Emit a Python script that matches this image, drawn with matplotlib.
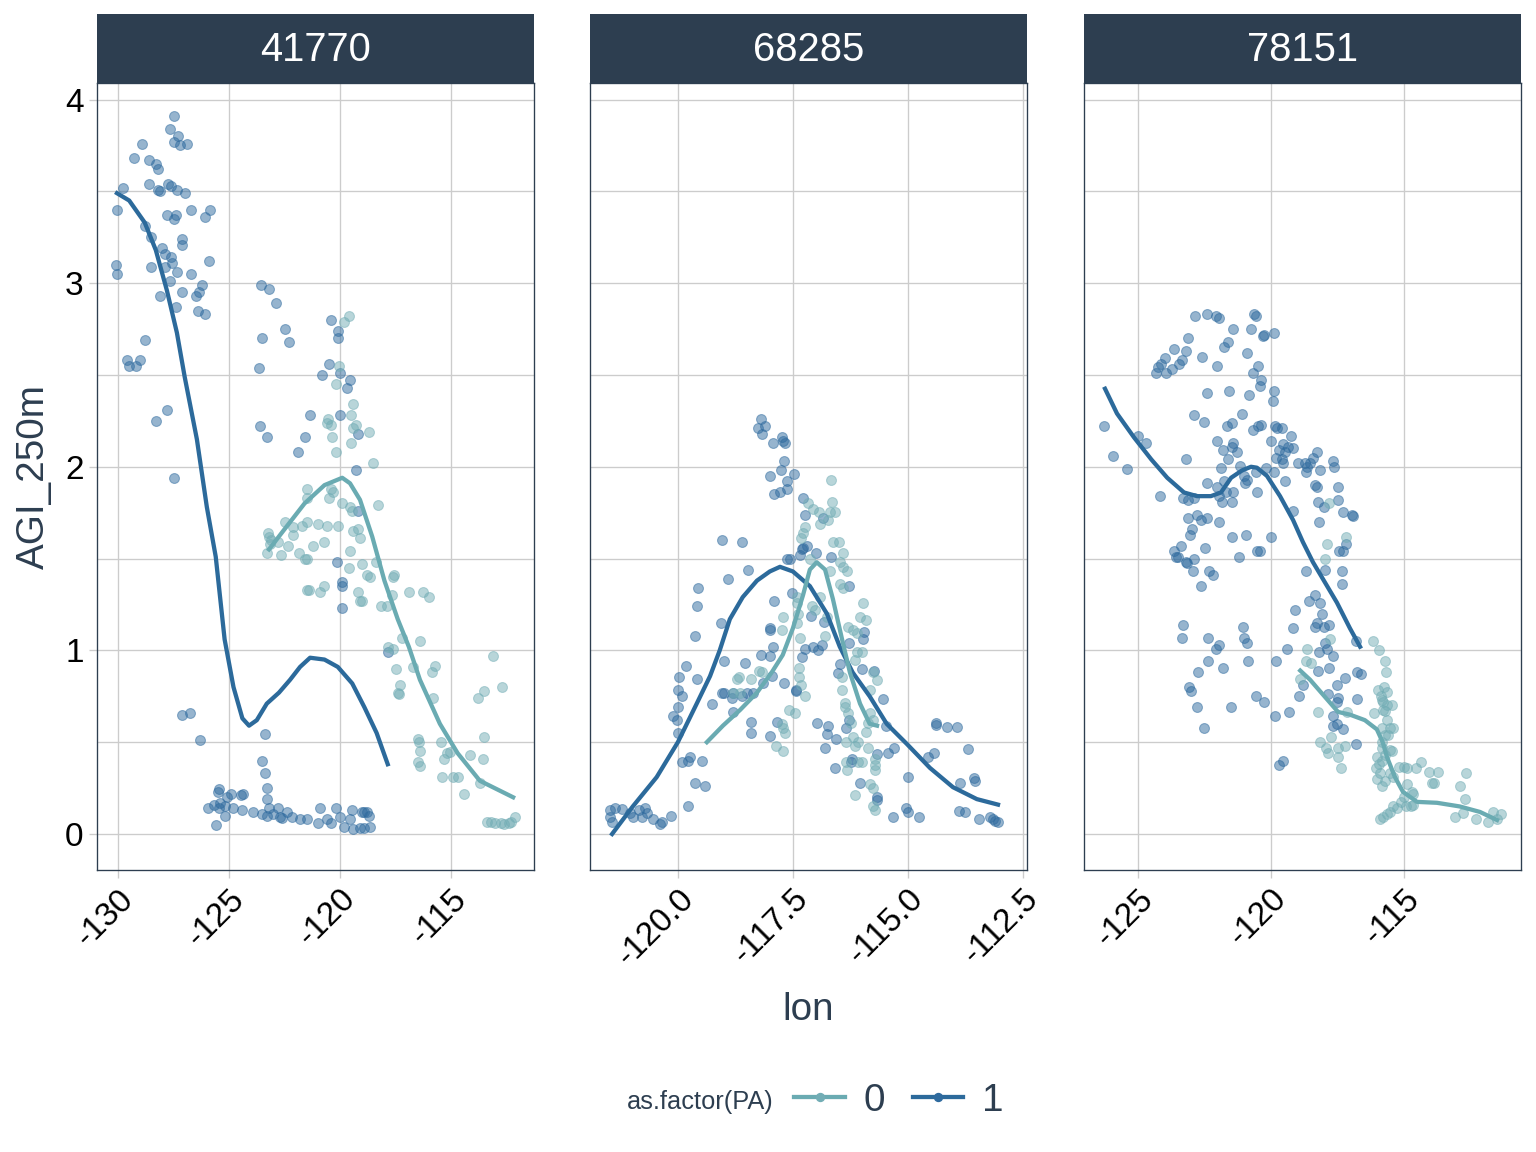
import numpy as np
import matplotlib
matplotlib.use("Agg")
import matplotlib.pyplot as plt
from matplotlib.lines import Line2D

plt.rcParams['font.family'] = ['Liberation Sans', 'DejaVu Sans']

# ---- data ----
panels = ['41770', '68285', '78151']

# panel 41770
p1_lon1 = [-127.5, -127.66, -127.3, -127.5, -127.2, -126.9, -128.9, -129.3, -128.6, -128.3, -128.2, -129.8,
           -128.6, -128.2, -128.1, -127.75, -127.6, -127.35, -127.0, -130.05, -126.7, -126.1, -125.85, -127.8,
           -127.4, -127.5, -128.8, -128.5, -128.0, -127.1, -127.1, -127.9, -127.6, -127.55, -127.9, -128.5,
           -130.1, -130.05, -127.35, -126.7, -125.9, -127.65, -126.2, -126.35, -126.5, -127.1, -128.1, -127.4,
           -126.4, -126.1, -128.8, -129.6, -129.5, -129.2, -129.0, -127.8, -128.3, -127.5,
           -123.55, -123.2, -122.9, -122.5, -122.3, -123.5, -123.65, -120.4, -120.1, -120.1, -120.5, -120.8,
           -120.0, -119.55, -119.7, -121.35, -120.0, -119.2, -123.6, -123.3, -121.6, -121.9, -119.3, -119.2,
           -120.15, -119.9, -119.9, -119.9, -117.85, -127.1, -126.75, -126.3, -123.4, -123.5, -123.4, -123.3,
           -123.3,
           -125.45, -125.5, -124.9, -125.1, -124.45, -124.35, -125.95, -125.7, -125.4, -125.45, -125.2, -125.2,
           -125.6, -124.8, -124.4, -123.9, -123.5, -123.2, -123.3, -123.0, -122.8, -122.7, -122.6, -122.4,
           -122.15, -121.8, -121.5, -121.0, -120.9, -120.6, -120.4, -120.2, -120.0, -119.8, -119.55, -119.45,
           -119.0, -118.9, -118.8, -119.4, -119.1, -118.9, -118.65, -118.7]
p1_agi1 = [3.91, 3.84, 3.80, 3.77, 3.75, 3.76, 3.76, 3.68, 3.67, 3.65, 3.62, 3.52,
           3.54, 3.51, 3.50, 3.54, 3.53, 3.51, 3.49, 3.40, 3.40, 3.36, 3.40, 3.37,
           3.37, 3.35, 3.31, 3.25, 3.19, 3.24, 3.21, 3.16, 3.14, 3.11, 3.09, 3.09,
           3.10, 3.05, 3.06, 3.05, 3.12, 3.01, 2.99, 2.95, 2.93, 2.95, 2.93, 2.87,
           2.85, 2.83, 2.69, 2.58, 2.55, 2.55, 2.58, 2.31, 2.25, 1.94,
           2.99, 2.97, 2.89, 2.75, 2.68, 2.70, 2.54, 2.80, 2.74, 2.70, 2.56, 2.50,
           2.51, 2.47, 2.43, 2.28, 2.28, 2.18, 2.22, 2.16, 2.16, 2.08, 1.98, 1.76,
           1.48, 1.37, 1.35, 1.23, 0.99, 0.65, 0.66, 0.51, 0.545, 0.40, 0.33, 0.25,
           0.19,
           0.245, 0.23, 0.22, 0.20, 0.21, 0.22, 0.14, 0.16, 0.17, 0.14, 0.15, 0.10,
           0.05, 0.14, 0.13, 0.12, 0.11, 0.14, 0.10, 0.11, 0.14, 0.09, 0.085, 0.12,
           0.09, 0.08, 0.08, 0.06, 0.14, 0.08, 0.06, 0.14, 0.09, 0.04, 0.08, 0.13,
           0.12, 0.12, 0.12, 0.03, 0.035, 0.035, 0.04, 0.10]
p1_lon0 = [-119.8, -119.6, -120.05, -120.2, -119.4, -119.5, -120.55, -120.4, -120.6, -119.3, -119.4, -118.7,
           -120.35, -119.5, -120.2, -118.5, -121.5, -121.5, -120.4, -120.5, -120.3, -119.9, -119.55, -119.45,
           -118.3, -122.5, -122.1, -121.7, -121.5, -121.0, -120.6, -120.1, -122.1, -123.2, -123.25, -123.1,
           -123.15, -122.8, -122.35, -121.2, -120.7, -123.3, -122.65, -121.85, -121.6, -121.5, -119.55, -119.4,
           -119.2, -119.1, -119.6, -119.0, -118.4, -118.8, -118.65, -117.55, -117.6, -119.2, -119.1, -119.0,
           -118.15, -117.9, -121.5, -121.4, -120.9, -120.7, -117.85, -117.6, -117.5, -116.9, -116.25, -116.0,
           -117.65, -117.2, -116.4, -116.7, -115.85, -115.7, -117.3, -117.4, -117.35, -115.8, -113.1, -113.5,
           -112.7, -113.8, -116.5, -116.45, -116.4, -116.5, -116.4, -115.45, -115.3, -115.2, -115.05, -115.4,
           -114.9, -114.7, -114.4, -114.15, -113.55, -113.5, -113.7, -113.4, -113.2, -113.0, -112.75, -112.6,
           -112.4, -112.3, -112.1]
p1_agi0 = [2.79, 2.82, 2.55, 2.45, 2.34, 2.28, 2.26, 2.23, 2.24, 2.23, 2.21, 2.19,
           2.16, 2.13, 2.08, 2.02, 1.88, 1.83, 1.88, 1.83, 1.86, 1.80, 1.78, 1.76,
           1.79, 1.70, 1.67, 1.68, 1.70, 1.69, 1.68, 1.68, 1.63, 1.62, 1.64, 1.60,
           1.58, 1.59, 1.57, 1.57, 1.59, 1.53, 1.52, 1.53, 1.50, 1.50, 1.54, 1.65,
           1.66, 1.61, 1.45, 1.47, 1.48, 1.41, 1.40, 1.41, 1.40, 1.32, 1.27, 1.27,
           1.24, 1.24, 1.33, 1.33, 1.32, 1.35, 1.02, 1.01, 0.90, 1.32, 1.32, 1.29,
           1.30, 1.07, 1.05, 0.91, 0.88, 0.915, 0.81, 0.77, 0.76, 0.74, 0.97, 0.78,
           0.80, 0.74, 0.52, 0.50, 0.45, 0.39, 0.37, 0.50, 0.41, 0.44, 0.445, 0.31,
           0.31, 0.31, 0.22, 0.43, 0.41, 0.53, 0.28, 0.065, 0.065, 0.06, 0.06, 0.055,
           0.06, 0.065, 0.09]
s1_lon1 = [-130.05, -129.5, -128.8, -128.3, -127.8, -127.35, -127.0, -126.45, -126.0, -125.6, -125.2, -124.8,
           -124.4, -124.1, -123.75, -123.3, -122.75, -122.25, -121.8, -121.35, -120.7, -120.1, -119.45, -118.9,
           -118.35, -117.85]
s1_agi1 = [3.49, 3.45, 3.33, 3.18, 2.96, 2.73, 2.49, 2.15, 1.78, 1.51, 1.06, 0.80,
           0.63, 0.59, 0.62, 0.71, 0.77, 0.84, 0.91, 0.96, 0.95, 0.91, 0.82, 0.69,
           0.55, 0.38]
s1_lon0 = [-123.2, -122.5, -121.6, -120.7, -119.9, -119.55, -119.1, -118.55, -118.0, -117.4, -116.9, -116.4,
           -115.5, -114.7, -113.7, -112.2]
s1_agi0 = [1.55, 1.66, 1.80, 1.90, 1.94, 1.91, 1.82, 1.62, 1.38, 1.17, 1.02, 0.84,
           0.60, 0.44, 0.29, 0.20]

# panel 68285
p2_lon1 = [-118.2, -118.26, -118.1, -118.17, -117.93, -117.74, -117.72, -117.67, -117.7, -117.76, -117.48, -118.0,
           -117.63, -117.63, -117.78, -117.9, -117.28, -117.24, -116.85, -119.04, -118.6, -117.63, -117.57, -117.28,
           -117.2, -117.3, -117.35, -117.0, -116.67, -118.48, -118.9, -119.57, -119.59, -117.9, -117.52, -119.07,
           -118.0, -119.63, -117.93, -118.2, -118.0, -119.0, -118.54, -119.83, -119.98, -119.59, -120.0, -119.9,
           -119.04, -119.0, -118.8, -118.83, -118.6, -118.5, -118.37, -118.15, -117.96, -117.7, -117.43, -119.26,
           -120.0, -120.1, -120.02, -120.0, -118.8, -118.4, -118.4, -117.85, -118.0, -119.9, -119.78, -119.74,
           -119.48, -119.63, -119.41, -119.78,
           -121.48, -121.48, -121.43, -121.37, -121.22, -121.04, -120.98, -120.85, -120.78, -120.72, -120.67, -120.54,
           -120.39, -120.35, -120.15,
           -117.11, -116.28, -116.83, -115.96, -115.98, -116.28, -117.24, -117.07, -116.96, -116.87, -117.3, -118.0,
           -117.43, -116.48, -116.52, -116.0, -115.74, -115.54, -115.48, -116.28, -116.35, -116.98, -116.74, -116.76,
           -116.57, -116.8, -116.22, -116.24, -115.67, -115.43, -115.3, -116.59, -116.04, -115.67, -115.67, -115.33,
           -115.0, -115.04, -115.0,
           -114.39, -114.39, -114.15, -113.93, -113.7, -114.43, -114.57, -113.87, -113.57, -113.54, -114.76, -113.89,
           -113.76, -113.46, -113.22, -113.15, -113.04, -113.1]
p2_agi1 = [2.26, 2.21, 2.22, 2.18, 2.13, 2.16, 2.14, 2.13, 2.03, 1.98, 1.96, 1.95,
           1.92, 1.88, 1.86, 1.85, 1.83, 1.74, 1.72, 1.60, 1.59, 1.50, 1.50, 1.56,
           1.57, 1.55, 1.52, 1.53, 1.51, 1.44, 1.39, 1.34, 1.24, 1.27, 1.31, 1.15,
           1.12, 1.08, 1.02, 0.975, 0.97, 0.94, 0.93, 0.915, 0.855, 0.845, 0.785, 0.75,
           0.77, 0.77, 0.77, 0.74, 0.75, 0.77, 0.77, 0.82, 0.86, 0.82, 0.78, 0.71,
           0.69, 0.64, 0.62, 0.55, 0.665, 0.61, 0.55, 0.61, 0.535, 0.39, 0.40, 0.42,
           0.40, 0.28, 0.26, 0.15,
           0.13, 0.09, 0.065, 0.14, 0.135, 0.115, 0.09, 0.13, 0.09, 0.14, 0.115, 0.08,
           0.055, 0.065, 0.10,
           1.19, 1.35, 1.155, 1.10, 1.06, 1.04, 1.01, 1.02, 1.00, 1.03, 0.965, 1.11,
           0.785, 0.925, 0.875, 0.90, 0.89, 0.735, 0.59, 0.62, 0.58, 0.605, 0.59, 0.545,
           0.52, 0.47, 0.41, 0.39, 0.435, 0.44, 0.47, 0.36, 0.28, 0.20, 0.185, 0.09,
           0.31, 0.14, 0.12,
           0.605, 0.595, 0.585, 0.585, 0.465, 0.44, 0.42, 0.28, 0.305, 0.29, 0.095, 0.125,
           0.12, 0.08, 0.09, 0.08, 0.065, 0.07]
p2_lon0 = [-118.72, -118.67, -118.41, -118.24, -118.17, -118.8, -118.65, -117.72, -117.74, -117.59, -117.46, -117.74,
           -117.72, -117.67, -117.87, -117.72, -117.24, -117.28, -117.33, -117.41, -117.39, -117.41, -117.35, -117.37,
           -117.37, -117.33, -117.24,
           -116.67, -116.65, -117.17, -117.07, -116.93, -116.7, -116.59, -116.74, -116.91, -116.63, -116.5, -116.41,
           -116.48, -116.41, -116.33, -116.7, -117.13, -116.48, -116.41, -116.91, -117.41, -117.09, -117.02, -116.76,
           -116.8, -116.3, -116.2, -116.1, -115.98, -116.04, -115.9, -116.0, -116.1, -116.15, -116.43, -116.43,
           -116.37, -116.37, -115.76, -115.67, -115.83, -115.83, -115.76, -115.87, -116.3, -116.24, -116.2, -116.08,
           -115.9, -116.35, -116.15, -115.72, -115.72, -115.72, -115.87, -116.35, -116.33, -116.08, -116.0, -115.83,
           -115.76, -116.15, -115.72, -115.76]
p2_agi0 = [0.845, 0.855, 0.845, 0.89, 0.88, 0.77, 0.77, 1.18, 1.11, 0.675, 0.66, 0.60,
           0.58, 0.55, 0.48, 0.45, 1.67, 1.64, 1.61, 1.26, 1.20, 1.15, 1.07, 0.905,
           0.855, 0.81, 0.75,
           1.93, 1.81, 1.80, 1.77, 1.755, 1.755, 1.755, 1.71, 1.69, 1.59, 1.59, 1.53,
           1.48, 1.455, 1.43, 1.43, 1.50, 1.36, 1.34, 1.29, 1.29, 1.24, 1.22, 1.18,
           1.08, 1.13, 1.11, 1.095, 1.26, 1.18, 1.165, 0.99, 0.99, 0.95, 0.855, 0.785,
           0.715, 0.69, 0.88, 0.84, 0.785, 0.66, 0.62, 0.605, 0.66, 0.605, 0.53, 0.50,
           0.555, 0.50, 0.48, 0.41, 0.375, 0.35, 0.47, 0.39, 0.35, 0.39, 0.39, 0.27,
           0.25, 0.21, 0.13, 0.15]
s2_lon1 = [-121.43, -120.98, -120.46, -120.0, -119.59, -119.3, -119.09, -118.87, -118.59, -118.28, -118.0, -117.78,
           -117.5, -117.13, -116.76, -116.48, -116.2, -115.83, -115.46, -115.02, -114.52, -114.02, -113.5, -113.04]
s2_agi1 = [0.0, 0.15, 0.31, 0.50, 0.71, 0.86, 1.00, 1.17, 1.29, 1.38, 1.43, 1.455,
           1.43, 1.35, 1.20, 1.02, 0.88, 0.75, 0.60, 0.49, 0.36, 0.255, 0.19, 0.16]
s2_lon0 = [-119.37, -119.02, -118.65, -118.28, -117.96, -117.72, -117.5, -117.28, -117.13, -116.98, -116.8, -116.63,
           -116.43, -116.26, -116.04, -115.83, -115.67]
s2_agi0 = [0.50, 0.59, 0.675, 0.77, 0.88, 0.975, 1.12, 1.30, 1.44, 1.48, 1.44, 1.28,
           1.06, 0.88, 0.71, 0.60, 0.59]

# panel 78151
p3_lon1 = [-122.86, -122.41, -122.07, -121.95, -121.43, -120.64, -120.56, -120.75, -120.3, -123.12, -121.6, -121.77,
           -123.2, -123.65, -123.98, -122.6, -120.9, -123.35, -123.46, -123.72, -124.25, -124.14, -124.32, -123.95,
           -122.03, -120.49, -120.68, -120.38, -120.41, -122.41, -121.58, -120.83, -122.9, -122.52, -126.28, -121.09,
           -121.47, -121.65, -120.68, -120.49, -120.38, -125.0, -124.7, -125.94, -125.41, -123.2, -122.03, -121.43,
           -121.47, -121.28, -121.8, -121.62, -121.88, -121.17, -120.56, -121.0, -120.9, -120.98, -120.53, -122.41,
           -124.17, -123.31, -123.12, -122.9, -122.03, -121.77, -121.7, -121.95, -121.84, -121.43, -121.47, -123.12,
           -122.78, -122.63, -122.41, -121.95, -122.97, -123.05, -121.47, -120.94, -123.38, -122.48, -123.65, -123.57,
           -123.5, -123.2, -123.16, -122.9, -122.93, -122.33, -122.18, -122.63, -121.2, -120.53, -120.41, -123.31,
           -123.35, -122.37, -122.07, -121.95, -121.05, -121.0, -120.9, -122.37, -121.8, -120.86, -122.74, -123.08,
           -123.0, -122.78, -121.5, -120.56, -120.26, -122.52,
           -120.26, -119.89, -119.89, -119.92, -119.85, -119.77, -119.59, -119.25, -120.0, -119.55, -119.36, -119.17,
           -119.7, -119.47, -119.81, -119.59, -119.55, -118.98, -118.72, -118.65, -118.53, -118.42, -118.27, -118.68,
           -118.16, -117.67, -117.63, -120.19, -119.89, -119.47, -118.35, -118.27, -117.48, -118.23, -118.0, -117.48,
           -119.17, -117.29, -116.95, -116.92, -118.2, -120.0, -117.18, -117.44, -117.29, -118.68, -117.97, -117.33,
           -117.33, -118.35, -118.57, -118.16, -118.08, -119.1, -119.17, -118.27, -118.35, -118.0, -117.82,
           -116.8, -117.97, -117.9, -118.2, -117.67, -119.4, -119.81, -118.23, -117.82, -117.22, -116.77, -116.6,
           -117.52, -118.8, -118.95, -117.86, -117.48, -117.52, -116.77, -119.32, -119.85, -117.67, -117.52, -117.29,
           -117.67, -116.8, -119.7, -119.55]
p3_agi1 = [2.82, 2.83, 2.82, 2.81, 2.75, 2.83, 2.82, 2.75, 2.71, 2.70, 2.68, 2.65,
           2.63, 2.64, 2.59, 2.60, 2.62, 2.58, 2.56, 2.53, 2.545, 2.56, 2.51, 2.51,
           2.55, 2.55, 2.51, 2.47, 2.44, 2.40, 2.41, 2.39, 2.28, 2.245, 2.22, 2.29,
           2.24, 2.22, 2.20, 2.22, 2.23, 2.17, 2.13, 2.06, 1.99, 2.04, 2.14, 2.13,
           2.11, 2.08, 2.09, 2.04, 1.995, 2.005, 1.97, 1.95, 1.93, 1.91, 1.86, 1.91,
           1.84, 1.83, 1.82, 1.83, 1.89, 1.92, 1.86, 1.84, 1.81, 1.86, 1.81, 1.72,
           1.74, 1.71, 1.72, 1.70, 1.66, 1.63, 1.62, 1.63, 1.57, 1.56, 1.54, 1.51,
           1.51, 1.48, 1.475, 1.50, 1.43, 1.43, 1.41, 1.35, 1.51, 1.54, 1.54, 1.14,
           1.07, 1.07, 1.01, 1.03, 1.13, 1.07, 1.04, 0.94, 0.905, 0.94, 0.88, 0.80,
           0.78, 0.69, 0.69, 0.75, 0.72, 0.58,
           2.72, 2.73, 2.41, 2.36, 2.22, 2.21, 2.21, 2.17, 2.14, 2.125, 2.11, 2.10,
           2.09, 2.08, 2.05, 2.04, 2.02, 2.02, 2.02, 2.00, 2.02, 2.05, 2.08, 1.97,
           1.98, 2.03, 2.00, 1.995, 1.97, 1.92, 1.90, 1.89, 1.89, 1.81, 1.78, 1.82,
           1.76, 1.755, 1.74, 1.73, 1.70, 1.62, 1.58, 1.54, 1.54, 1.43, 1.44, 1.43,
           1.36, 1.30, 1.27, 1.26, 1.20, 1.22, 1.12, 1.15, 1.13, 1.13, 1.14,
           1.05, 1.04, 1.01, 0.99, 0.97, 1.01, 0.94, 0.89, 0.905, 0.85, 0.88, 0.87,
           0.81, 0.81, 0.75, 0.76, 0.74, 0.72, 0.735, 0.665, 0.64, 0.64, 0.60, 0.57,
           0.59, 0.49, 0.375, 0.40]
p3_lon0 = [-117.82, -117.9, -117.18, -117.97, -118.65, -118.68, -118.5, -118.9, -118.23, -117.14, -117.78, -116.17,
           -115.94, -115.71, -115.68, -117.74, -118.16, -117.93, -117.86, -117.48, -117.22, -117.48, -117.37, -116.13,
           -115.98, -115.83, -115.8,
           -115.75, -115.64, -115.86, -115.79, -115.64, -115.45, -115.71, -115.64, -115.82, -115.53, -115.41, -115.71,
           -115.82, -115.6, -115.82, -115.53, -115.45, -115.71, -115.82, -116.0, -115.95, -116.05, -115.9, -116.0,
           -115.0, -114.9, -114.55, -114.36, -114.06, -113.72, -113.95, -113.87, -112.67, -112.9, -112.7, -112.78,
           -113.08, -112.3, -111.84, -111.65, -111.35, -111.5, -114.9, -114.7, -114.66, -115.0, -115.1, -114.92,
           -114.73, -114.66, -115.41, -115.53, -115.64, -115.79, -115.26, -115.9, -115.53, -115.41, -115.71, -115.82,
           -115.2]
p3_agi0 = [1.80, 1.58, 1.62, 1.50, 1.01, 0.94, 0.93, 0.845, 0.665, 0.665, 1.06, 1.05,
           1.00, 0.94, 0.88, 0.53, 0.50, 0.47, 0.44, 0.47, 0.48, 0.42, 0.36, 0.66,
           0.785, 0.73, 0.675,
           0.80, 0.775, 0.75, 0.72, 0.70, 0.70, 0.67, 0.62, 0.58, 0.58, 0.58, 0.54,
           0.50, 0.54, 0.47, 0.46, 0.45, 0.43, 0.40, 0.42, 0.38, 0.36, 0.33, 0.30,
           0.365, 0.36, 0.36, 0.39, 0.34, 0.34, 0.28, 0.28, 0.33, 0.26, 0.19, 0.115,
           0.09, 0.08, 0.065, 0.12, 0.11, 0.08, 0.27, 0.23, 0.22, 0.20, 0.175, 0.15,
           0.15, 0.16, 0.15, 0.12, 0.11, 0.09, 0.14, 0.08, 0.33, 0.31, 0.29, 0.26,
           0.365]
s3_lon1 = [-126.24, -125.79, -125.15, -124.5, -123.9, -123.27, -122.78, -122.26, -121.88, -121.5, -121.09, -120.75,
           -120.53, -120.15, -119.66, -119.17, -118.8, -118.42, -117.97, -117.52, -117.03, -116.65]
s3_agi1 = [2.425, 2.29, 2.16, 2.04, 1.94, 1.86, 1.84, 1.84, 1.86, 1.94, 1.98, 2.0,
           1.995, 1.95, 1.84, 1.71, 1.59, 1.48, 1.37, 1.26, 1.12, 1.02]
s3_lon0 = [-118.9, -118.53, -118.05, -117.48, -117.03, -116.47, -116.02, -115.8, -115.64, -115.34, -115.04, -114.51,
           -113.76, -112.9, -112.14, -111.5]
s3_agi0 = [0.89, 0.84, 0.76, 0.665, 0.65, 0.62, 0.57, 0.50, 0.42, 0.31, 0.23, 0.175,
           0.17, 0.15, 0.12, 0.076]

x_ticks = [[-130, -125, -120, -115], [-120.0, -117.5, -115.0, -112.5], [-125, -120, -115]]
x_ticklabels = [['-130', '-125', '-120', '-115'], ['-120.0', '-117.5', '-115.0', '-112.5'], ['-125', '-120', '-115']]
x_lims = [(-130.95, -111.26), (-121.91, -112.41), (-127.03, -110.6)]

# ---- styling ----
col0 = '#72adb5'
col1 = '#2e6a9e'
line0 = '#6aabb2'
line1 = '#2c6a9b'
navy = '#2d3e50'
grid_c = '#cccccc'

fig = plt.figure(figsize=(16, 12), dpi=96)
W, H = 1536, 1152
lefts = [97, 590, 1084]
pw = 437
top_px, bot_px, strip_top = 83, 870, 14

pts = [(p1_lon0, p1_agi0, p1_lon1, p1_agi1, s1_lon0, s1_agi0, s1_lon1, s1_agi1),
       (p2_lon0, p2_agi0, p2_lon1, p2_agi1, s2_lon0, s2_agi0, s2_lon1, s2_agi1),
       (p3_lon0, p3_agi0, p3_lon1, p3_agi1, s3_lon0, s3_agi0, s3_lon1, s3_agi1)]

for i, name in enumerate(panels):
    ax = fig.add_axes([lefts[i] / W, 1 - bot_px / H, pw / W, (bot_px - top_px) / H])
    lon0, agi0, lon1, agi1, sl0, sa0, sl1, sa1 = pts[i]
    ax.scatter(lon1, agi1, s=55, color=col1, alpha=0.5, edgecolors=col1, linewidths=0.8, zorder=3)
    ax.scatter(lon0, agi0, s=55, color=col0, alpha=0.5, edgecolors=col0, linewidths=0.8, zorder=3)
    ax.plot(sl1, sa1, color=line1, lw=3.2, zorder=4, solid_joinstyle='round')
    ax.plot(sl0, sa0, color=line0, lw=3.2, zorder=4, solid_joinstyle='round')

    ax.set_xlim(*x_lims[i])
    ax.set_ylim(-0.196, 4.09)
    ax.set_xticks(x_ticks[i])
    ax.set_xticklabels(x_ticklabels[i], rotation=45, ha='right', va='top',
                       rotation_mode='anchor', fontsize=25, color='black')
    ax.set_yticks([0, 1, 2, 3, 4])
    ax.set_yticks([0.5, 1.5, 2.5, 3.5], minor=True)
    ax.grid(True, which='major', color=grid_c, lw=1.0)
    ax.grid(True, which='minor', axis='y', color=grid_c, lw=1.0)
    ax.set_axisbelow(True)
    ax.tick_params(axis='both', which='major', length=6, color=grid_c, width=1.0, pad=4)
    ax.tick_params(axis='y', which='minor', length=0)
    if i == 0:
        ax.set_yticklabels(['0', '1', '2', '3', '4'], fontsize=25, color='black')
        ax.set_ylabel('AGI_250m', fontsize=29, color=navy, labelpad=10)
    else:
        ax.tick_params(axis='y', which='major', length=0, labelleft=False)
    for sp in ax.spines.values():
        sp.set_color(navy)
        sp.set_linewidth(1.0)

    # facet strip
    sax = fig.add_axes([lefts[i] / W, 1 - top_px / H, pw / W, (top_px - strip_top) / H])
    sax.set_facecolor(navy)
    sax.set_xticks([])
    sax.set_yticks([])
    for sp in sax.spines.values():
        sp.set_visible(False)
    sax.text(0.5, 0.48, name, ha='center', va='center', color='white', fontsize=30,
             transform=sax.transAxes)

fig.text(808 / W, 1 - 1010 / H, 'lon', ha='center', va='center', fontsize=29, color=navy)

# legend
handles = [Line2D([0], [0], color=line0, lw=3.2, marker='o', markersize=6,
                  markerfacecolor=col0, markeredgecolor=col0),
           Line2D([0], [0], color=line1, lw=3.2, marker='o', markersize=6,
                  markerfacecolor=col1, markeredgecolor=col1)]
fig.text(700 / W, 1 - 1102 / H, 'as.factor(PA)', ha='center', va='center', fontsize=19, color=navy)
leg = fig.legend(handles, ['0', '1'], ncol=2, loc='center', bbox_to_anchor=(899 / W, 1 - 1101 / H),
                 frameon=False, fontsize=29, handlelength=1.3, handletextpad=0.5, columnspacing=0.7,
                 labelcolor=navy)

fig.savefig('out.png', dpi=96)
